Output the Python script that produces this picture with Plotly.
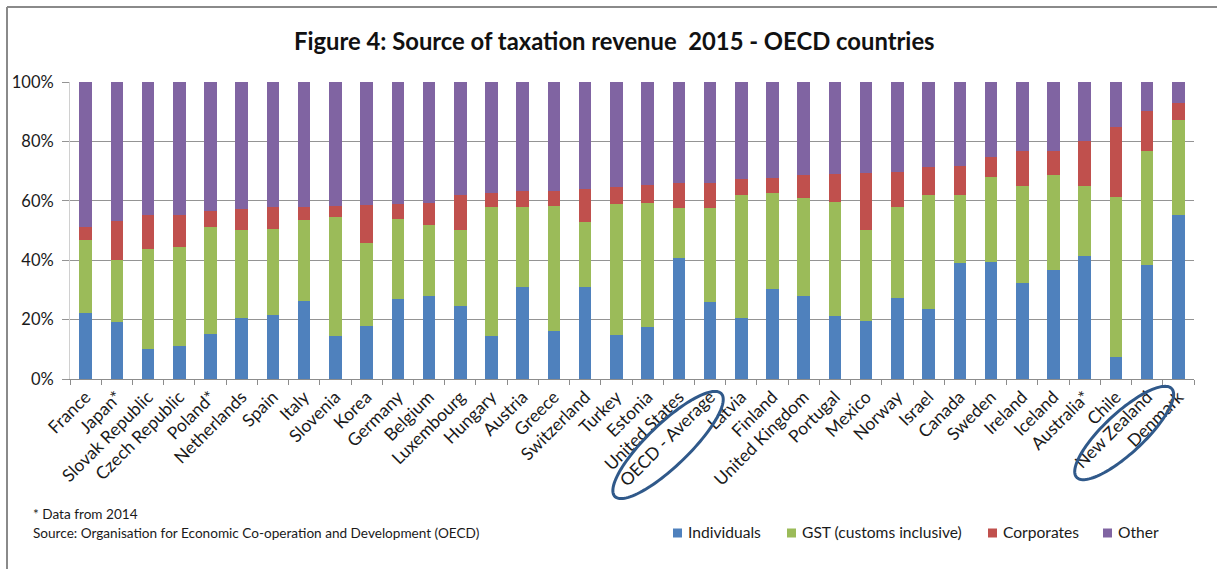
import numpy as np
import plotly.graph_objects as go

# Share of total tax revenue by source, 2015 (percent)
countries = [
    "France", "Japan*", "Slovak Republic", "Czech Republic", "Poland*", "Netherlands",
    "Spain", "Italy", "Slovenia", "Korea", "Germany", "Belgium", "Luxembourg", "Hungary",
    "Austria", "Greece", "Switzerland", "Turkey", "Estonia", "United States",
    "OECD - Average", "Latvia", "Finland", "United Kingdom", "Portugal", "Mexico",
    "Norway", "Israel", "Canada", "Sweden", "Ireland", "Iceland", "Australia*", "Chile",
    "New Zealand", "Denmark",
]
individuals = [22.3, 19.1, 10.1, 11.0, 15.2, 20.7, 21.4, 26.4, 14.4, 18.0, 26.9, 28.1,
               24.5, 14.4, 31.1, 16.0, 31.1, 14.9, 17.4, 40.7, 26.0, 20.5, 30.2, 27.8,
               21.1, 19.4, 27.4, 23.6, 38.9, 39.5, 32.3, 36.8, 41.3, 7.3, 38.3, 55.2]
gst = [24.5, 21.1, 33.7, 33.3, 35.9, 29.5, 29.0, 27.0, 40.0, 27.9, 27.1, 23.9,
       25.6, 43.5, 26.8, 42.2, 21.6, 43.9, 41.7, 16.9, 31.6, 41.3, 32.5, 33.0,
       38.6, 30.9, 30.5, 38.2, 23.2, 28.4, 32.8, 31.9, 23.8, 53.9, 38.4, 31.9]
corporates = [4.5, 13.1, 11.3, 11.0, 5.4, 7.2, 7.4, 4.6, 4.0, 12.7, 4.8, 7.4,
              11.7, 4.8, 5.3, 5.0, 11.3, 5.8, 6.3, 8.5, 8.5, 5.5, 4.9, 7.8,
              9.4, 19.1, 11.8, 9.6, 9.7, 6.8, 11.6, 8.0, 15.1, 23.5, 13.5, 5.8]
other = [48.7, 46.7, 44.9, 44.7, 43.5, 42.6, 42.2, 42.0, 41.6, 41.4, 41.2, 40.6,
         38.2, 37.3, 36.8, 36.8, 36.0, 35.4, 34.6, 33.9, 33.9, 32.7, 32.4, 31.4,
         30.9, 30.6, 30.3, 28.6, 28.2, 25.3, 23.3, 23.3, 19.8, 15.3, 9.8, 7.1]

series_names = ["Individuals", "GST (customs inclusive)", "Corporates", "Other"]
series_values = [individuals, gst, corporates, other]
series_colors = ["#4f81bd", "#9bbb59", "#c0504d", "#8064a2"]

highlighted = ["OECD - Average", "New Zealand"]

W, H = 1217, 569
ML, MR, MT, MB = 70, 23, 82, 190
PW, PH = W - ML - MR, H - MT - MB
FONT = "Lato"


def px_to_paper(px, py):
    return (px - ML) / PW, (H - MB - py) / PH


fig = go.Figure()
for name, vals, col in zip(series_names, series_values, series_colors):
    fig.add_trace(go.Bar(x=countries, y=vals, name=name, marker_color=col,
                         marker_line_width=0, showlegend=False))

shapes = []
annotations = []

# frame lines along the top and left edges
x0, y0 = px_to_paper(7, 7)
x1, _ = px_to_paper(W, 7)
shapes.append(dict(type="line", xref="paper", yref="paper", x0=x0, y0=y0, x1=x1, y1=y0,
                   line=dict(color="#8a8a8a", width=2)))
_, yb = px_to_paper(7, H)
shapes.append(dict(type="line", xref="paper", yref="paper", x0=x0, y0=y0, x1=x0, y1=yb,
                   line=dict(color="#8a8a8a", width=2)))


def ellipse_path(cx, cy, a, b, ang_deg, n=120):
    t = np.linspace(0, 2 * np.pi, n)
    ang = np.deg2rad(ang_deg)
    ex = a * np.cos(t)
    ey = b * np.sin(t)
    xs = cx + ex * np.cos(ang) + ey * np.sin(ang)
    ys = cy - ex * np.sin(ang) + ey * np.cos(ang)
    pts = [px_to_paper(x, y) for x, y in zip(xs, ys)]
    return "M " + " L ".join(f"{p[0]:.5f},{p[1]:.5f}" for p in pts) + " Z"


# rings drawn around the highlighted category labels
step = PW / len(countries)
ring_specs = {"OECD - Average": (-42, 445, 74, 21, 44),
              "New Zealand": (-23, 433, 65, 20, 43)}
for label in highlighted:
    dx, cy, a, b, ang = ring_specs[label]
    cx = ML + (countries.index(label) + 0.5) * step + dx
    shapes.append(dict(type="path", xref="paper", yref="paper",
                       path=ellipse_path(cx, cy, a, b, ang),
                       line=dict(color="#30598a", width=3)))

# legend: small colour square followed by the series name
legend_left = [673, 787, 988, 1103]
legend_y = 533
sq = 9
for name, col, lx in zip(series_names, series_colors, legend_left):
    ax0, ay0 = px_to_paper(lx, legend_y + sq / 2)
    ax1, ay1 = px_to_paper(lx + sq, legend_y - sq / 2)
    shapes.append(dict(type="rect", xref="paper", yref="paper", x0=ax0, y0=ay0,
                       x1=ax1, y1=ay1, fillcolor=col, line=dict(width=0)))
    tx_, ty_ = px_to_paper(lx + sq + 4, legend_y - 1)
    annotations.append(dict(text=name, xref="paper", yref="paper", x=tx_, y=ty_,
                            showarrow=False, xanchor="left", yanchor="middle",
                            font=dict(family=FONT, size=15.6, color="#1a1a1a")))

tx, ty = px_to_paper(614, 41)
annotations.append(dict(text="<b>Figure 4: Source of taxation revenue\u00a0 2015 - OECD countries</b>",
                        xref="paper", yref="paper", x=tx, y=ty, showarrow=False,
                        xanchor="center", yanchor="middle",
                        font=dict(family=FONT, size=23.8, color="#111111")))
nx, ny = px_to_paper(31, 514)
annotations.append(dict(text="* Data from 2014", xref="paper", yref="paper", x=nx, y=ny,
                        showarrow=False, xanchor="left", yanchor="middle",
                        font=dict(family=FONT, size=13.6, color="#1a1a1a")))
sx, sy = px_to_paper(31, 533)
annotations.append(dict(text="Source: Organisation for Economic Co-operation and Development (OECD)",
                        xref="paper", yref="paper", x=sx, y=sy, showarrow=False,
                        xanchor="left", yanchor="middle",
                        font=dict(family=FONT, size=13.6, color="#1a1a1a")))

fig.update_layout(
    width=W, height=H,
    margin=dict(l=ML, r=MR, t=MT, b=MB, autoexpand=False),
    paper_bgcolor="white", plot_bgcolor="white",
    barmode="stack", bargap=0.6,
    font=dict(family=FONT, size=15, color="#1a1a1a"),
    showlegend=False,
    shapes=shapes, annotations=annotations,
    xaxis=dict(type="category", tickangle=-45, showline=True, linecolor="#8c8c8c",
               linewidth=1, ticks="outside", tickson="boundaries", ticklen=5,
               tickcolor="#8c8c8c", showgrid=False, tickfont=dict(size=17.5)),
    yaxis=dict(range=[0, 100], dtick=20, ticksuffix="%", showgrid=True,
               gridcolor="#949494", gridwidth=1, zeroline=False, showline=True,
               linecolor="#d0d0d0", ticks="outside", ticklen=7, tickcolor="#949494",
               tickfont=dict(size=16.5), ticklabelstandoff=5),
)

fig.write_html("out.html")
